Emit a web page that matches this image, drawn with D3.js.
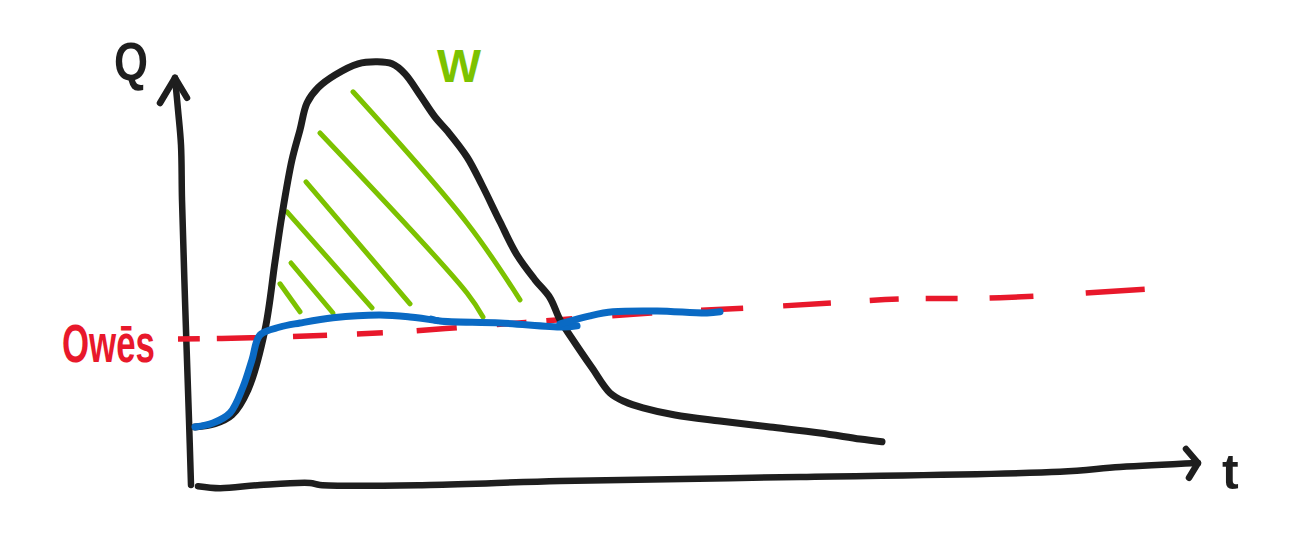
<!DOCTYPE html>
<html>
<head>
<meta charset="utf-8">
<script src="https://cdn.jsdelivr.net/npm/d3@7"></script>
<style>
  html, body { margin: 0; padding: 0; background: #fff; }
  svg { display: block; }
</style>
</head>
<body>
<div id="chart"></div>
<script>
// sketch values: t along x, Q up the y axis
const qCurve = [
  [0.04, 1.40], [0.24, 1.48], [0.41, 1.70], [0.57, 2.33], [0.74, 3.83], [0.84, 5.53],
  [0.91, 6.70], [1.01, 8.08], [1.09, 8.83], [1.16, 9.50], [1.27, 9.88], [1.44, 10.20],
  [1.67, 10.48], [1.86, 10.53], [2.01, 10.48], [2.14, 10.23], [2.29, 9.70], [2.44, 9.15],
  [2.57, 8.78], [2.76, 8.15], [2.91, 7.45], [3.09, 6.53], [3.26, 5.70], [3.44, 5.08],
  [3.59, 4.63], [3.69, 4.08], [3.84, 3.50], [4.01, 2.88], [4.19, 2.25], [4.34, 2.03],
  [4.52, 1.88], [4.84, 1.70], [5.29, 1.55], [5.79, 1.40], [6.29, 1.25], [6.69, 1.10],
  [6.91, 1.03]
];

// blue curve, drawn in three strokes
const blueStrokes = [
  [[0.04, 1.40], [0.22, 1.50], [0.39, 1.75], [0.52, 2.40], [0.61, 3.08], [0.69, 3.70],
   [0.89, 3.90], [1.09, 4.00], [1.42, 4.13], [1.89, 4.20], [2.19, 4.15], [2.46, 4.06]],
  [[2.40, 4.10], [2.49, 4.05], [3.09, 4.00], [3.72, 3.90], [3.86, 3.93]],
  [[3.69, 3.98], [3.99, 4.18], [4.22, 4.28], [4.66, 4.30], [5.16, 4.25], [5.29, 4.28]]
];

// Q_wes, the dashed red level
const qWes = [
  [-0.13, 3.60], [0.60, 3.63], [1.40, 3.70], [2.09, 3.78], [3.00, 3.95], [3.69, 4.08],
  [4.60, 4.25], [5.59, 4.38], [6.40, 4.50], [7.09, 4.60], [8.09, 4.63], [9.57, 4.85]
];

// hatch strokes for the W area: [t0, Q0, t1, Q1, ...]
const hatch = [
  [0.89, 4.98, 1.09, 4.28],
  [1.00, 5.50, 1.42, 4.25],
  [0.96, 6.78, 1.81, 4.38],
  [1.15, 7.53, 2.19, 4.48],
  [1.29, 8.75, 2.76, 4.75, 2.92, 4.15],
  [1.62, 9.78, 2.76, 6.50, 3.29, 4.58]
];

const yAxisPts = [[0.00, -0.05], [-0.02, 1.58], [-0.06, 4.58], [-0.09, 7.08], [-0.10, 8.45], [-0.13, 9.33], [-0.16, 10.13]];
const yArrow = [[-0.31, 9.50], [-0.16, 10.13], [-0.04, 9.63]];
const xAxisPts = [[0.07, -0.08], [0.29, -0.13], [0.69, -0.05], [1.19, 0.00], [1.29, -0.05], [2.39, -0.05],
  [3.69, 0.05], [6.09, 0.15], [8.69, 0.28], [9.29, 0.40], [10.07, 0.50]];
const xArrow = [[9.95, 0.85], [10.07, 0.50], [9.98, 0.13]];

const W = 1312, H = 554;
const svg = d3.select('#chart').append('svg').attr('width', W).attr('height', H);

const x = d3.scaleLinear().domain([0, 10]).range([191, 1191]);
const y = d3.scaleLinear().domain([0, 10]).range([483, 83]);

const line = d3.line().x(d => x(d[0])).y(d => y(d[1])).curve(d3.curveCatmullRom.alpha(0.5));
const straight = d3.line().x(d => x(d[0])).y(d => y(d[1])).curve(d3.curveLinear);

const INK = '#1e1e1e', BLUE = '#0a6ac4', RED = '#e8182b', GREEN = '#7cc200';

function stroke(d, color, w, gen) {
  return svg.append('path')
    .attr('d', (gen || line)(d))
    .attr('fill', 'none')
    .attr('stroke', color)
    .attr('stroke-width', w)
    .attr('stroke-linecap', 'round')
    .attr('stroke-linejoin', 'round');
}

// axes
stroke(yAxisPts, INK, 6.5);
stroke(yArrow, INK, 6.5, straight);
stroke(xAxisPts, INK, 6.5);
stroke(xArrow, INK, 6.5, straight);

// hatching
hatch.forEach(h => {
  const pts = [];
  for (let i = 0; i < h.length; i += 2) pts.push([h[i], h[i + 1]]);
  stroke(pts, GREEN, 5);
});

// dashed level, uneven hand-drawn dashes
stroke(qWes, RED, 5.5)
  .attr('stroke-linecap', 'butt')
  .attr('stroke-dasharray', '22,17,40,36,34,30,26,34,40,40,30,20,26,40,40,49,42,40,48,39,29,27,32,32,44,52,59,300');

// main curve, then blue on top
stroke(qCurve, INK, 7);
blueStrokes.forEach(s => stroke(s, BLUE, 7));

// labels
const font = "'Liberation Sans', 'DejaVu Sans', sans-serif";
svg.append('text').attr('x', 114).attr('y', 80).text('Q')
  .attr('font-family', font).attr('font-weight', 700).attr('font-size', 54).attr('fill', INK)
  .attr('textLength', 34).attr('lengthAdjust', 'spacingAndGlyphs');
svg.append('text').attr('x', 437).attr('y', 82).text('W')
  .attr('font-family', font).attr('font-weight', 700).attr('font-size', 46).attr('fill', GREEN)
  .attr('textLength', 44).attr('lengthAdjust', 'spacingAndGlyphs');
svg.append('text').attr('x', 62).attr('y', 362).text('Owēs')
  .attr('font-family', font).attr('font-weight', 700).attr('font-size', 54).attr('fill', RED)
  .attr('textLength', 93).attr('lengthAdjust', 'spacingAndGlyphs');
svg.append('text').attr('x', 1222).attr('y', 489).text('t')
  .attr('font-family', font).attr('font-weight', 700).attr('font-size', 50).attr('fill', INK);
</script>
</body>
</html>
